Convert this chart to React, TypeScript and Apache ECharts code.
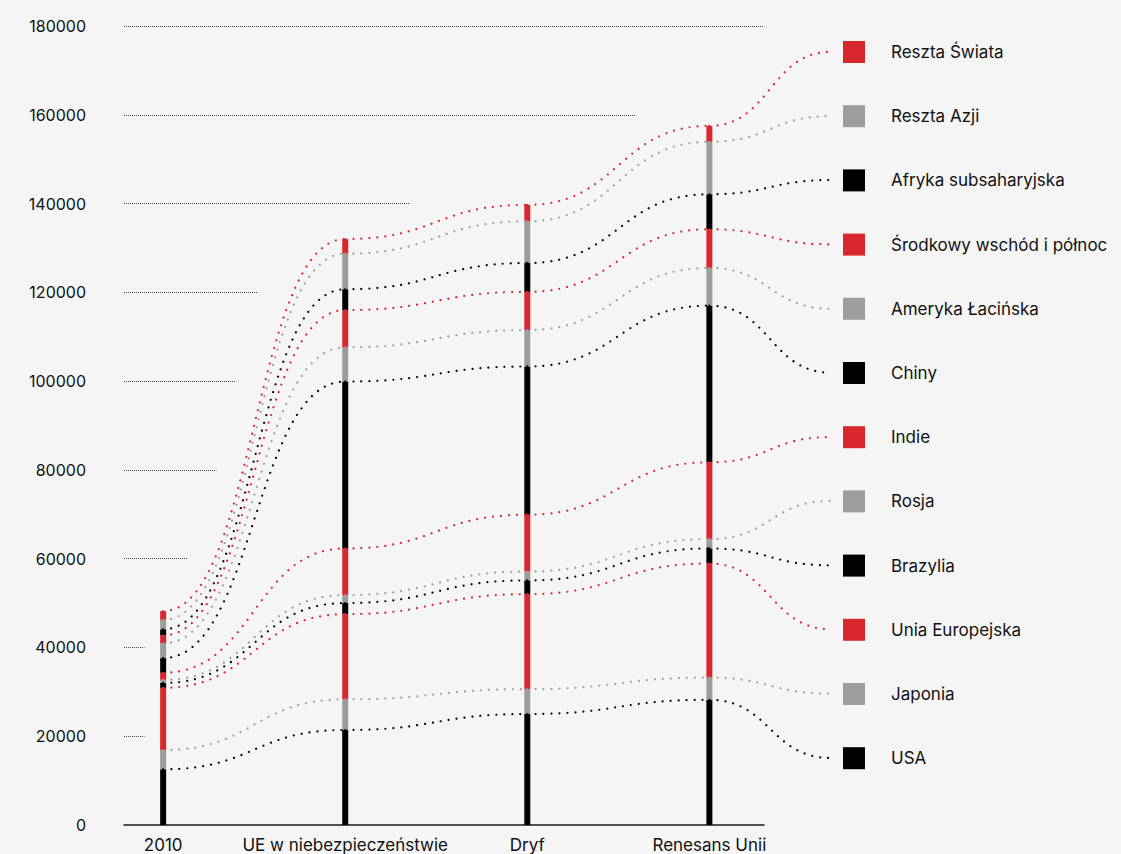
import React, { useEffect, useRef } from "react";
import * as echarts from "echarts";

const categories = ["2010", "UE w niebezpieczeństwie", "Dryf", "Renesans Unii"];

const regions = [
  "USA",
  "Japonia",
  "Unia Europejska",
  "Brazylia",
  "Rosja",
  "Indie",
  "Chiny",
  "Ameryka Łacińska",
  "Środkowy wschód i północ",
  "Afryka subsaharyjska",
  "Reszta Azji",
  "Reszta Świata",
];

// segment values per scenario (2010, UE w niebezpieczeństwie, Dryf, Renesans Unii)
const usa = [12550, 21400, 25000, 28200];
const japonia = [4350, 6900, 5600, 5000];
const uniaEuropejska = [14000, 19200, 21400, 25700];
const brazylia = [1100, 2500, 3100, 3400];
const rosja = [700, 1800, 2000, 2100];
const indie = [1600, 10500, 12800, 17300];
const chiny = [3300, 37600, 33400, 35300];
const amerykaLacinska = [3300, 7700, 8200, 8500];
const srodkowyWschod = [1800, 8400, 8600, 8700];
const afrykaSubsaharyjska = [1400, 4700, 6500, 7900];
const resztaAzji = [2100, 8000, 9400, 11800];
const resztaSwiata = [2000, 3300, 3700, 3600];

const seriesValues = [
  usa,
  japonia,
  uniaEuropejska,
  brazylia,
  rosja,
  indie,
  chiny,
  amerykaLacinska,
  srodkowyWschod,
  afrykaSubsaharyjska,
  resztaAzji,
  resztaSwiata,
];

// where each connector ends, next to its legend entry
const legendAnchorValues = [
  15100, 29600, 44100, 58500, 73000, 87400, 101900, 116300, 130800, 145300,
  159700, 174200,
];

const yTicks = [20000, 40000, 60000, 80000, 100000, 120000, 140000, 160000, 180000];
// right end of each staggered dotted guide line (x-axis units)
const gridLineEnds = [-0.102, -0.102, 0.134, 0.293, 0.398, 0.519, 1.354, 2.596, 3.299];

const RED = "#d9272e";
const GRAY = "#9d9d9c";
const BLACK = "#000000";
const palette = [BLACK, GRAY, RED];

const X_MIN = -0.215;
const X_MAX = 3.3;
const X_END = 3.668;
const FONT = "Inter";
const BAR_W = 6;

export default function App() {
  const ref = useRef<HTMLDivElement>(null);

  useEffect(() => {
    if (!ref.current) return;
    const chart = echarts.init(ref.current, null, { renderer: "svg" });

    // cumulative tops
    const cumulative: number[][] = [];
    seriesValues.forEach((vals, si) => {
      cumulative.push(
        vals.map((v, ci) => (si === 0 ? v : cumulative[si - 1][ci] + v))
      );
    });

    const barSeries: any[] = regions.map((name, si) => {
      const color = palette[si % 3];
      const data = seriesValues[si].map((v, ci) => [
        ci,
        cumulative[si][ci] - v,
        cumulative[si][ci],
      ]);
      const s: any = {
        name,
        type: "custom",
        z: 2,
        silent: true,
        itemStyle: { color },
        encode: { x: 0, y: [1, 2] },
        data,
        renderItem: (params: any, api: any) => {
          const x = api.value(0);
          const lo = api.coord([x, api.value(1)]);
          const hi = api.coord([x, api.value(2)]);
          return {
            type: "rect",
            shape: {
              x: lo[0] - BAR_W / 2,
              y: hi[1],
              width: BAR_W,
              height: lo[1] - hi[1],
            },
            style: { fill: color },
          };
        },
      };
      if (si === 0) {
        s.markLine = {
          silent: true,
          symbol: "none",
          label: { show: false },
          animation: false,
          lineStyle: { color: "#444", width: 1, type: [1, 1] },
          data: yTicks.map((t, i) => [
            { coord: [X_MIN, t] },
            { coord: [gridLineEnds[i], t] },
          ]),
        };
      }
      return s;
    });

    const lineSeries: any[] = regions.map((name, si) => {
      const color = palette[si % 3];
      const pts: number[][] = cumulative[si].map((v, ci) => [ci, v]);
      pts.push([X_END, legendAnchorValues[si]]);
      return {
        name,
        type: "custom",
        z: 3,
        clip: false,
        silent: true,
        itemStyle: { color },
        encode: { x: 0, y: 1 },
        data: pts,
        renderItem: (params: any, api: any) => {
          const i = params.dataIndex;
          if (i >= pts.length - 1) return null;
          const a = api.coord(pts[i]);
          const b = api.coord(pts[i + 1]);
          const mx = (a[0] + b[0]) / 2;
          return {
            type: "bezierCurve",
            shape: {
              x1: a[0],
              y1: a[1],
              cpx1: mx,
              cpy1: a[1],
              cpx2: mx,
              cpy2: b[1],
              x2: b[0],
              y2: b[1],
            },
            style: {
              stroke: color,
              fill: null,
              lineWidth: 2.2,
              lineDash: [0.01, 8],
              lineCap: "round",
            },
          };
        },
      };
    });

    chart.setOption({
      animation: false,
      backgroundColor: "#f5f5f5",
      textStyle: { fontFamily: FONT },
      grid: { left: 124, right: 357, top: 26, bottom: 29, containLabel: false },
      legend: {
        orient: "vertical",
        left: 843,
        top: 41,
        padding: 0,
        itemWidth: 22,
        itemHeight: 22,
        itemGap: 42.2,
        icon: "rect",
        selectedMode: false,
        data: [...regions].reverse(),
        textStyle: {
          fontFamily: FONT,
          fontSize: 17,
          color: "#111",
          padding: [0, 0, 0, 21],
        },
      },
      xAxis: {
        type: "value",
        min: X_MIN,
        max: X_MAX,
        axisLine: { show: true, onZero: false, lineStyle: { color: "#1a1a1a", width: 1.5 } },
        axisTick: { show: false },
        splitLine: { show: false },
        axisLabel: {
          customValues: [0, 1, 2, 3],
          formatter: (v: number) => categories[Math.round(v)] ?? "",
          fontFamily: FONT,
          fontSize: 17,
          color: "#111",
          margin: 11,
        },
      },
      yAxis: {
        type: "value",
        min: 0,
        max: 180000,
        interval: 20000,
        axisLine: { show: false },
        axisTick: { show: false },
        splitLine: { show: false },
        axisLabel: {
          formatter: (v: number) => String(v),
          fontFamily: FONT,
          fontSize: 16,
          color: "#111",
          margin: 38,
          verticalAlign: "middle",
          padding: [0, 0, 7, 0],
        },
      },
      series: [...barSeries, ...lineSeries],
    });

    return () => chart.dispose();
  }, []);

  return (
    <div
      ref={ref}
      style={{
        position: "absolute",
        left: 0,
        top: 0,
        width: 1121,
        height: 854,
        background: "#f5f5f5",
      }}
    />
  );
}
